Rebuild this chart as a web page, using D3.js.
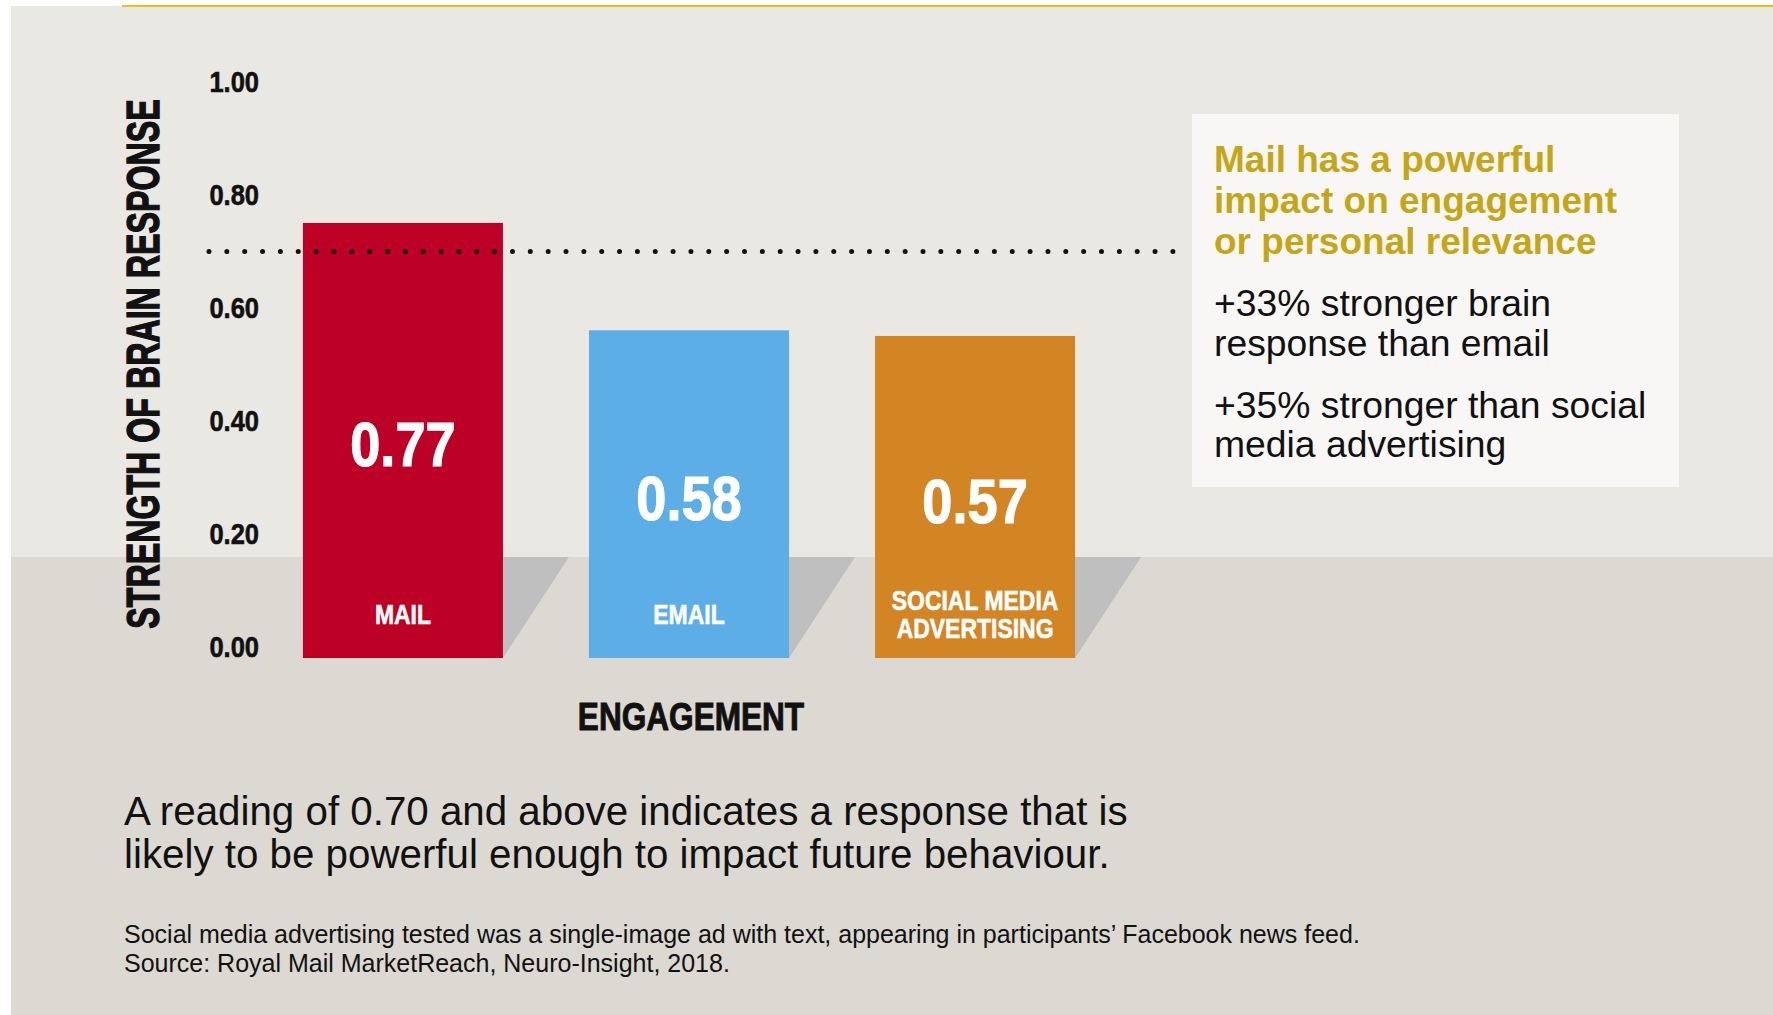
<!DOCTYPE html>
<html>
<head>
<meta charset="utf-8">
<script src="https://cdn.jsdelivr.net/npm/d3@7"></script>
<style>
  body { margin: 0; background: #ffffff; }
  .cond { font-family: "Liberation Sans", Arial, sans-serif; font-weight: bold; }
  .reg { font-family: "Liberation Sans", "Helvetica Neue", Arial, sans-serif; }
</style>
</head>
<body>
<div id="chart"></div>
<script>
// data
var categories = ["MAIL", "EMAIL", "SOCIAL MEDIA ADVERTISING"];
var catLines = [["MAIL"], ["EMAIL"], ["SOCIAL MEDIA", "ADVERTISING"]];
var values = [0.77, 0.58, 0.57];
var barColors = ["#bd0026", "#5caee7", "#d38524"];
var tickValues = [0, 0.2, 0.4, 0.6, 0.8, 1.0];
var threshold = 0.70;

var headline = ["Mail has a powerful", "impact on engagement", "or personal relevance"];
var points = [["+33% stronger brain", "response than email"], ["+35% stronger than social", "media advertising"]];
var note = ["A reading of 0.70 and above indicates a response that is", "likely to be powerful enough to impact future behaviour."];
var footnote = ["Social media advertising tested was a single-image ad with text, appearing in participants\u2019 Facebook news feed.", "Source: Royal Mail MarketReach, Neuro-Insight, 2018."];

var W = 1773, H = 1015;
var svg = d3.select("#chart").append("svg")
    .attr("width", W)
    .attr("height", H);

// no condensed font installed, so squeeze bold sans horizontally
// (a thin stroke in the fill colour makes it as heavy as the original)
function condText(parent, x, y, size, sx, anchor, fill, sw) {
  return parent.append("g")
      .attr("transform", "translate(" + x + "," + y + ") scale(" + sx + ",1)")
    .append("text")
      .attr("class", "cond")
      .attr("text-anchor", anchor || "middle")
      .attr("dy", "0.36em")
      .attr("fill", fill || "#111")
      .attr("stroke", fill || "#111")
      .attr("stroke-width", sw || 0.8)
      .style("font-size", size + "px");
}

// background panels
svg.append("rect").attr("x", 11).attr("y", 6).attr("width", W - 11).attr("height", 551).attr("fill", "#e9e8e3");
svg.append("rect").attr("x", 11).attr("y", 557).attr("width", W - 11).attr("height", H - 557).attr("fill", "#dcd9d2");
svg.append("rect").attr("x", 122).attr("y", 5).attr("width", W - 122).attr("height", 2).attr("fill", "#e3c21a");

// scales
var x = d3.scaleBand()
    .domain(categories)
    .range([260, 1118])
    .paddingInner(0.3007)
    .paddingOuter(0.15);
var y = d3.scaleLinear()
    .domain([0, 1])
    .range([658, 93]);

var labelShift = 11; // labels/threshold sit a bit above the bar scale in the original

// y axis
var yAxis = svg.append("g")
    .attr("transform", "translate(259," + (-labelShift) + ")")
    .call(d3.axisLeft(y).tickValues(tickValues).tickFormat(d3.format(".2f")).tickSize(0).tickPadding(0));
yAxis.select(".domain").remove();
yAxis.selectAll("text")
    .attr("class", "cond")
    .attr("transform", "scale(0.85,1)")
    .style("font-size", "30px")
    .attr("fill", "#111")
    .attr("stroke", "#111")
    .attr("stroke-width", 0.6);

// bar shadows
var shadowTop = 557;
svg.selectAll(".shadow")
    .data(values)
    .enter().append("polygon")
      .attr("class", "shadow")
      .attr("fill", "#bfbfbf")
      .attr("points", function(d, i) {
        var r = x(categories[i]) + x.bandwidth();
        return [[r, shadowTop], [r + 66, shadowTop], [r, y(0)]].join(" ");
      });

// bars
svg.selectAll(".bar")
    .data(values)
    .enter().append("rect")
      .attr("class", "bar")
      .attr("x", function(d, i) { return x(categories[i]); })
      .attr("y", function(d) { return y(d); })
      .attr("width", x.bandwidth())
      .attr("height", function(d) { return y(0) - y(d); })
      .attr("fill", function(d, i) { return barColors[i]; });

// threshold dotted line
svg.append("line")
    .attr("x1", 209).attr("x2", 1173)
    .attr("y1", y(threshold) - labelShift).attr("y2", y(threshold) - labelShift)
    .attr("stroke", "#111")
    .attr("stroke-width", 5)
    .attr("stroke-linecap", "round")
    .attr("stroke-dasharray", "0 17.85");

// value labels
values.forEach(function(d, i) {
  condText(svg, x(categories[i]) + x.bandwidth() / 2, (y(d) + y(0)) / 2 + 3, 63, 0.86, "middle", "#fff", 1.2)
    .text(d3.format(".2f")(d));
});

// category labels inside bars
catLines.forEach(function(lines, i) {
  var cy = lines.length == 1 ? 614 : 600;
  lines.forEach(function(l, j) {
    condText(svg, x(categories[i]) + x.bandwidth() / 2, cy + j * 27.5, 28, 0.82, "middle", "#fff", 0.6).text(l);
  });
});

// axis titles
svg.append("g")
    .attr("transform", "translate(142,364) rotate(-90)")
  .append("g")
    .attr("transform", "scale(0.70,1)")
  .append("text")
    .attr("class", "cond")
    .attr("text-anchor", "middle")
    .attr("dy", "0.36em")
    .attr("fill", "#111")
    .attr("stroke", "#111")
    .attr("stroke-width", 1.4)
    .style("font-size", "46px")
    .text("STRENGTH OF BRAIN RESPONSE");

condText(svg, (x.range()[0] + x.range()[1]) / 2 + 2, 716, 39, 0.81, "middle", "#111", 1).text("ENGAGEMENT");

// callout box
svg.append("rect").attr("x", 1192).attr("y", 114).attr("width", 487).attr("height", 373).attr("fill", "#f8f7f5");
var head = svg.append("text").attr("class", "reg")
    .style("font-size", "37px").style("font-weight", "bold").attr("fill", "#c5a616");
headline.forEach(function(l, j) {
  head.append("tspan").attr("x", 1214).attr("y", 159 + j * 41).attr("dy", "0.35em").text(l);
});
var pointY = [[303, 343], [405, 444]];
points.forEach(function(p, k) {
  var t = svg.append("text").attr("class", "reg").style("font-size", "37.3px").attr("fill", "#111");
  p.forEach(function(l, j) {
    t.append("tspan").attr("x", 1214).attr("y", pointY[k][j]).attr("dy", "0.35em").text(l);
  });
});

// notes
var nt = svg.append("text").attr("class", "reg").style("font-size", "40.3px").attr("fill", "#111");
note.forEach(function(l, j) {
  nt.append("tspan").attr("x", 124).attr("y", 811 + j * 43).attr("dy", "0.35em").text(l);
});
var ft = svg.append("text").attr("class", "reg").style("font-size", "25px").attr("fill", "#111");
footnote.forEach(function(l, j) {
  ft.append("tspan").attr("x", 124).attr("y", 934 + j * 29).attr("dy", "0.35em").text(l);
});
</script>
</body>
</html>
